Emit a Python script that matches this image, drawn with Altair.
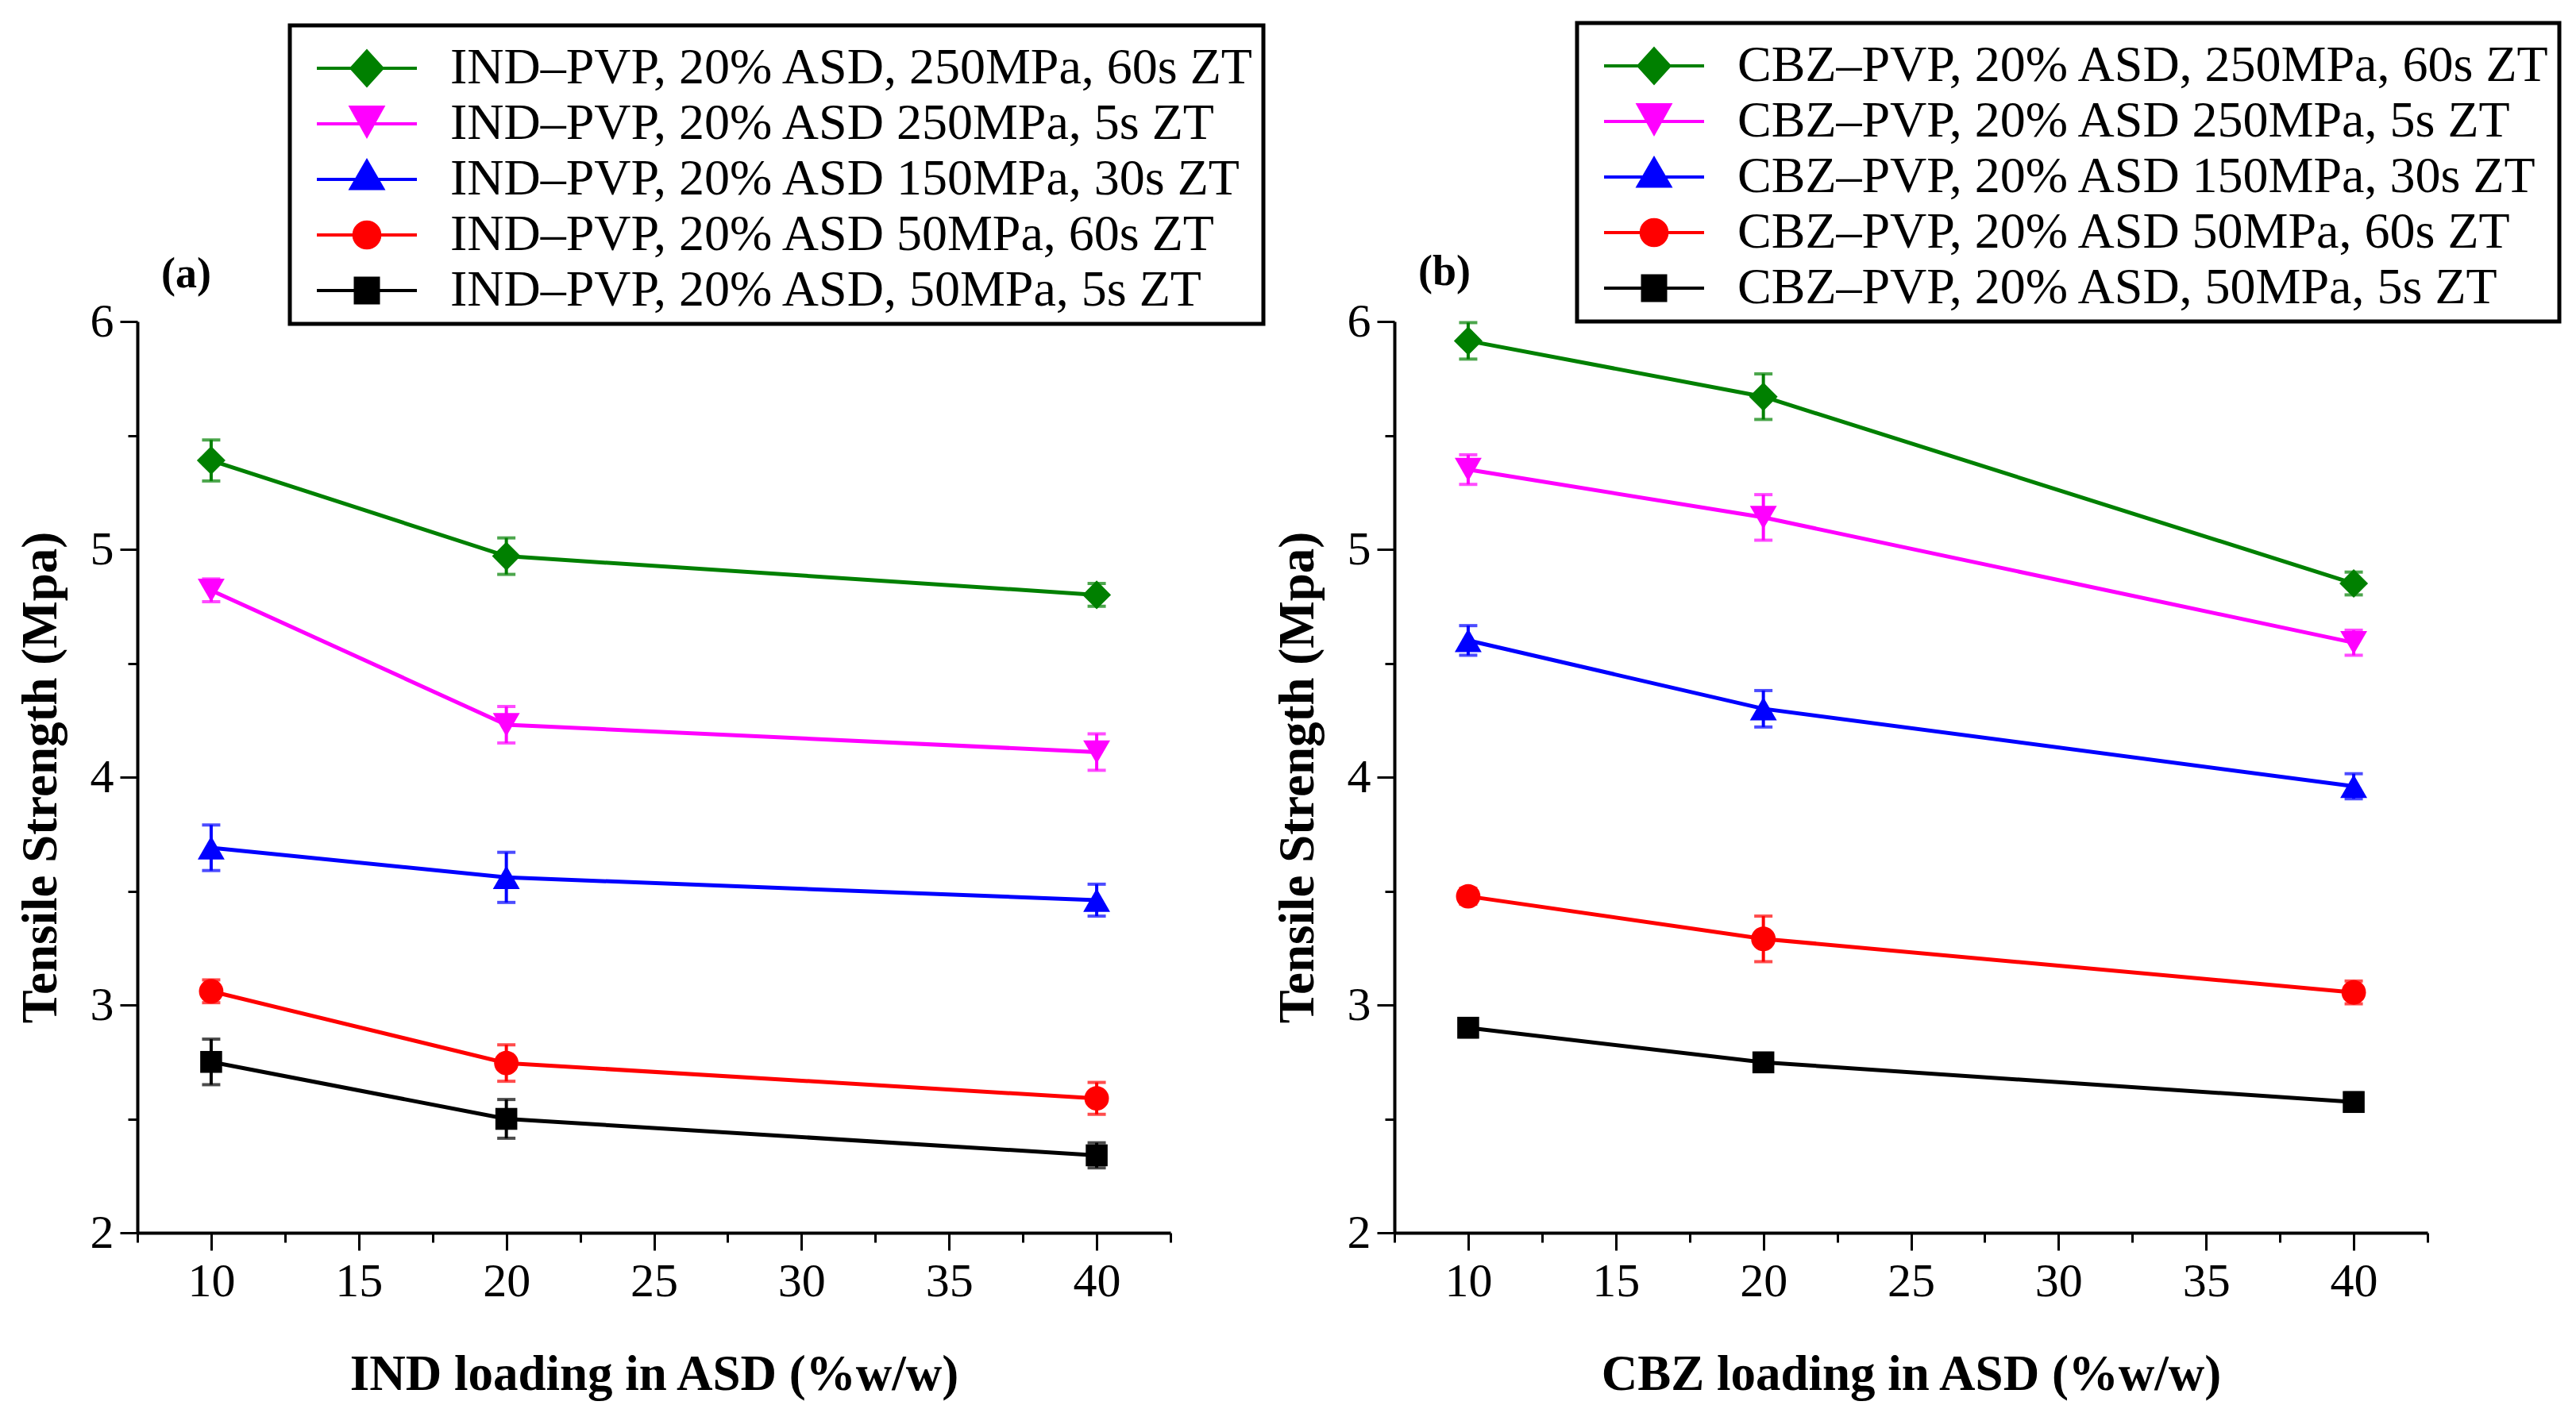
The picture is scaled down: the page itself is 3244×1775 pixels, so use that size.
import altair as alt
import pandas as pd

# ---------------- data ----------------
loading = [10, 20, 40]

ind_series = [
    "IND\u2013PVP, 20% ASD, 250MPa, 60s ZT",
    "IND\u2013PVP, 20% ASD 250MPa, 5s ZT",
    "IND\u2013PVP, 20% ASD 150MPa, 30s ZT",
    "IND\u2013PVP, 20% ASD 50MPa, 60s ZT",
    "IND\u2013PVP, 20% ASD, 50MPa, 5s ZT",
]
cbz_series = [
    "CBZ\u2013PVP, 20% ASD, 250MPa, 60s ZT",
    "CBZ\u2013PVP, 20% ASD 250MPa, 5s ZT",
    "CBZ\u2013PVP, 20% ASD 150MPa, 30s ZT",
    "CBZ\u2013PVP, 20% ASD 50MPa, 60s ZT",
    "CBZ\u2013PVP, 20% ASD, 50MPa, 5s ZT",
]

ind_250_60 = [5.39, 4.97, 4.80]
ind_250_5 = [4.82, 4.23, 4.11]
ind_150_30 = [3.69, 3.56, 3.46]
ind_50_60 = [3.06, 2.745, 2.59]
ind_50_5 = [2.75, 2.50, 2.34]

ind_250_60_err = [0.09, 0.08, 0.05]
ind_250_5_err = [0.05, 0.08, 0.08]
ind_150_30_err = [0.10, 0.11, 0.07]
ind_50_60_err = [0.05, 0.08, 0.07]
ind_50_5_err = [0.10, 0.085, 0.055]

cbz_250_60 = [5.915, 5.67, 4.85]
cbz_250_5 = [5.35, 5.14, 4.59]
cbz_150_30 = [4.60, 4.30, 3.96]
cbz_50_60 = [3.477, 3.29, 3.055]
cbz_50_5 = [2.90, 2.748, 2.574]

cbz_250_60_err = [0.08, 0.10, 0.05]
cbz_250_5_err = [0.065, 0.10, 0.055]
cbz_150_30_err = [0.065, 0.08, 0.055]
cbz_50_60_err = [0.035, 0.10, 0.05]
cbz_50_5_err = [0.04, 0.04, 0.04]

x_ticks = [7.5, 10, 12.5, 15, 17.5, 20, 22.5, 25, 27.5, 30, 32.5, 35, 37.5, 40, 42.5]
y_ticks = [2, 2.5, 3, 3.5, 4, 4.5, 5, 5.5, 6]
panel_tags = ["(a)", "(b)"]
x_titles = ["IND loading in ASD (%w/w)", "CBZ loading in ASD (%w/w)"]
y_title = "Tensile Strength (Mpa)"

# ---------------- styles ----------------
FONT = "Liberation Serif"
colors = ["#008000", "#FF00FF", "#0000FF", "#FF0000", "#000000"]
shapes = ["diamond", "triangle-down", "triangle-up", "circle", "square"]
point_sizes = [1300, 1150, 1150, 950, 760]


def legend_paths(dx):
    """legend symbols: line segment + marker (units of sqrt(size)/2)."""
    line = f"M{dx-3.15:.3f},0H{dx+3.15:.3f}"
    diamond = f"M{dx:.3f},-1.075L{dx+0.975:.3f},0L{dx:.3f},1.075L{dx-0.975:.3f},0Z"
    tdown = f"M{dx-1:.3f},-1.05L{dx+1:.3f},-1.05L{dx:.3f},0.75Z"
    tup = f"M{dx:.3f},-1.15L{dx+1:.3f},0.57L{dx-1:.3f},0.57Z"
    r = 0.815
    circ = (f"M{dx+r:.3f},0A{r},{r} 0 1,1 {dx-r:.3f},0"
            f"A{r},{r} 0 1,1 {dx+r:.3f},0Z")
    sq = f"M{dx-0.725:.3f},-0.775H{dx+0.725:.3f}V0.775H{dx-0.725:.3f}Z"
    return [line + s for s in (diamond, tdown, tup, circ, sq)]


LEG_PATHS = legend_paths(2.75)
IDX = list(range(5))


def build_df(series, values, errs):
    rows = []
    for i, (s, vals, es) in enumerate(zip(series, values, errs)):
        for x, v, e in zip(loading, vals, es):
            rows.append({"series": s, "idx": i, "x": x, "y": v, "lo": v - e, "hi": v + e})
    return pd.DataFrame(rows)


def panel(series, values, errs, xtitle, tag, legx, legy):
    df = build_df(series, values, errs)
    base = alt.Chart(df)

    x_enc = alt.X(
        "x:Q",
        scale=alt.Scale(domain=[7.5, 42.5], nice=False, zero=False),
        axis=alt.Axis(
            values=x_ticks,
            labelExpr="datum.value % 5 === 0 ? format(datum.value, 'd') : ''",
            tickSize={"condition": {"test": "datum.value % 5 === 0", "value": 22}, "value": 12},
            title=xtitle,
            labelPadding=10,
            titlePadding=56,
            labelFlush=False,
        ),
    )
    y_enc = alt.Y(
        "y:Q",
        scale=alt.Scale(domain=[2, 6], nice=False, zero=False),
        axis=alt.Axis(
            values=y_ticks,
            labelExpr="datum.value % 1 === 0 ? format(datum.value, 'd') : ''",
            tickSize={"condition": {"test": "datum.value % 1 === 0", "value": 22}, "value": 12},
            title=y_title,
            labelPadding=8,
            titlePadding=30,
            labelFlush=False,
        ),
    )
    color = alt.Color("idx:N", scale=alt.Scale(domain=IDX, range=colors), legend=None)

    lines = base.mark_line(strokeWidth=5).encode(x=x_enc, y=y_enc, color=color, order="x:Q")
    rules = base.mark_rule(strokeWidth=4).encode(x="x:Q", y="lo:Q", y2="hi:Q", color=color)
    cap_lo = base.mark_tick(orient="horizontal", size=23, thickness=4).encode(
        x="x:Q", y="lo:Q", color=color)
    cap_hi = base.mark_tick(orient="horizontal", size=23, thickness=4).encode(
        x="x:Q", y="hi:Q", color=color)

    pts = []
    for i, (sh, sz) in enumerate(zip(shapes, point_sizes)):
        pts.append(
            base.transform_filter(alt.datum.idx == i)
            .mark_point(filled=True, opacity=1, shape=sh, size=sz)
            .encode(x="x:Q", y="y:Q", color=color)
        )

    leg = alt.Legend(
        orient="none", legendX=legx, legendY=legy, direction="vertical",
        title=" ", titleFontSize=4, titlePadding=8,
        labelFont=FONT, labelFontSize=64, labelColor="black", labelLimit=3000,
        labelOffset=128, symbolSize=1600, symbolStrokeWidth=4,
        rowPadding=6, padding=10, strokeColor="black", fillColor="white",
    )
    legend_layer = (
        base.transform_filter("false")
        .mark_point(filled=True, opacity=1, strokeWidth=4, size=1600)
        .encode(
            x="x:Q", y="y:Q",
            fill=alt.Fill("series:N", scale=alt.Scale(domain=series, range=colors), legend=leg),
            stroke=alt.Stroke("series:N", scale=alt.Scale(domain=series, range=colors), legend=leg),
            shape=alt.Shape("series:N", scale=alt.Scale(domain=series, range=LEG_PATHS), legend=leg),
        )
    )

    return alt.layer(lines, rules, cap_lo, cap_hi, *pts, legend_layer).properties(
        width=1301, height=1148,
        title=alt.TitleParams(
            text=tag, anchor="start", frame="group", font=FONT, fontSize=54,
            fontWeight="bold", color="black", dx=30, offset=-386, baseline="alphabetic",
        ),
    )


left = panel(
    ind_series,
    [ind_250_60, ind_250_5, ind_150_30, ind_50_60, ind_50_5],
    [ind_250_60_err, ind_250_5_err, ind_150_30_err, ind_50_60_err, ind_50_5_err],
    x_titles[0], panel_tags[0], 192, -373,
)
right = panel(
    cbz_series,
    [cbz_250_60, cbz_250_5, cbz_150_30, cbz_50_60, cbz_50_5],
    [cbz_250_60_err, cbz_250_5_err, cbz_150_30_err, cbz_50_60_err, cbz_50_5_err],
    x_titles[1], panel_tags[1], 230, -376,
)

chart = (
    alt.hconcat(left, right, spacing=282, bounds="flush")
    .resolve_scale(color="independent", fill="independent", stroke="independent", shape="independent")
    .resolve_legend(fill="independent", stroke="independent", shape="independent")
    .properties(padding={"left": 12, "top": 18, "right": 5, "bottom": 5})
    .configure_view(strokeWidth=0)
    .configure_axis(
        domainColor="black", domainWidth=4, tickColor="black", tickWidth=3,
        labelFont=FONT, labelFontSize=60, labelColor="black",
        titleFont=FONT, titleFontSize=63, titleFontWeight="bold", titleColor="black",
        grid=False,
    )
    .configure_legend(strokeWidth=5)
)

chart.save("out.html", embed_options={"renderer": "svg", "actions": False})
